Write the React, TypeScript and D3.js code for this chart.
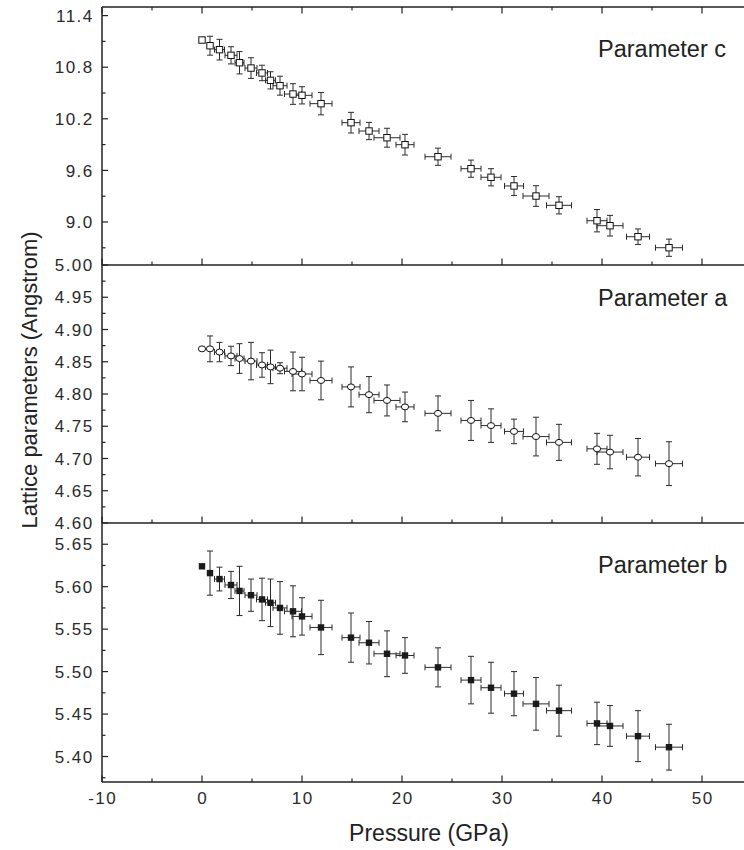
import React from "react";
import * as d3 from "d3";

// ---- data ----
const pressure = [0, 0.8, 1.75, 2.9, 3.75, 4.9, 6.0, 6.85, 7.8, 9.1, 10.0, 11.9, 14.9, 16.7, 18.5, 20.3, 23.6, 26.9, 28.9, 31.2, 33.4, 35.7, 39.5, 40.8, 43.6, 46.7];
const pressureErr = [0, 0, 0.5, 0.6, 0.45, 0.6, 0.55, 0.5, 0.7, 0.85, 1.0, 1.1, 0.9, 1.0, 1.3, 0.9, 1.3, 1.0, 1.0, 0.95, 1.3, 1.25, 1.0, 1.3, 1.15, 1.35];

const paramC = [11.116, 11.05, 11.004, 10.938, 10.852, 10.79, 10.733, 10.647, 10.585, 10.488, 10.473, 10.376, 10.155, 10.058, 9.98, 9.899, 9.759, 9.62, 9.52, 9.419, 9.302, 9.194, 9.015, 8.957, 8.829, 8.701];
const paramCErr = [0, 0.11, 0.12, 0.1, 0.13, 0.12, 0.09, 0.1, 0.11, 0.12, 0.1, 0.13, 0.12, 0.1, 0.11, 0.12, 0.1, 0.1, 0.1, 0.11, 0.12, 0.1, 0.13, 0.12, 0.09, 0.1];

const paramA = [4.87, 4.87, 4.865, 4.859, 4.855, 4.851, 4.845, 4.842, 4.84, 4.835, 4.831, 4.821, 4.811, 4.799, 4.79, 4.78, 4.77, 4.759, 4.751, 4.742, 4.734, 4.725, 4.715, 4.71, 4.702, 4.692];
const paramAErr = [0, 0.02, 0.015, 0.015, 0.023, 0.029, 0.019, 0.026, 0.0085, 0.03, 0.026, 0.03, 0.031, 0.028, 0.024, 0.023, 0.027, 0.031, 0.026, 0.019, 0.03, 0.028, 0.024, 0.026, 0.029, 0.034];

const paramB = [5.624, 5.616, 5.609, 5.602, 5.595, 5.59, 5.585, 5.581, 5.575, 5.571, 5.565, 5.552, 5.54, 5.534, 5.521, 5.519, 5.505, 5.49, 5.481, 5.474, 5.462, 5.454, 5.439, 5.436, 5.424, 5.411];
const paramBErr = [0, 0.026, 0.014, 0.016, 0.029, 0.019, 0.025, 0.028, 0.031, 0.03, 0.022, 0.032, 0.029, 0.025, 0.027, 0.021, 0.023, 0.028, 0.03, 0.026, 0.031, 0.03, 0.025, 0.024, 0.03, 0.027];

const xTicks = [-10, 0, 10, 20, 30, 40, 50];
const cTicks = [9.0, 9.6, 10.2, 10.8, 11.4];
const aTicks = [4.6, 4.65, 4.7, 4.75, 4.8, 4.85, 4.9, 4.95, 5.0];
const bTicks = [5.4, 5.45, 5.5, 5.55, 5.6, 5.65];

const panelLabels = ["Parameter c", "Parameter a", "Parameter b"];

// ---- layout ----
const W = 744;
const H = 850;
const left = 102;
const FONT = "'Liberation Sans', Arial, Helvetica, sans-serif";
const INK = "#222";

const x = d3.scaleLinear().domain([-10, 54.2]).range([left, W]);

type Marker = "openSquare" | "openCircle" | "filledSquare";

interface Panel {
  label: string;
  values: number[];
  errs: number[];
  y: d3.ScaleLinear<number, number>;
  ticks: number[];
  minor: number[];
  fmt: (v: number) => string;
  marker: Marker;
  labelBaseline: number;
  showBottomLabel: boolean;
}

const midpoints = (t: number[], below: boolean) => {
  const step = t[1] - t[0];
  const m = t.slice(0, -1).map((v, i) => (v + t[i + 1]) / 2);
  if (below) m.unshift(t[0] - step / 2);
  return m;
};

const panels: Panel[] = [
  {
    label: panelLabels[0],
    values: paramC,
    errs: paramCErr,
    y: d3.scaleLinear().domain([8.5, 11.5]).range([265, 7]),
    ticks: cTicks,
    minor: midpoints(cTicks, true),
    fmt: d3.format(".1f"),
    marker: "openSquare",
    labelBaseline: 57,
    showBottomLabel: false,
  },
  {
    label: panelLabels[1],
    values: paramA,
    errs: paramAErr,
    y: d3.scaleLinear().domain([4.6, 5.0]).range([523, 265]),
    ticks: aTicks,
    minor: midpoints(aTicks, false),
    fmt: d3.format(".2f"),
    marker: "openCircle",
    labelBaseline: 306,
    showBottomLabel: true,
  },
  {
    label: panelLabels[2],
    values: paramB,
    errs: paramBErr,
    y: d3.scaleLinear().domain([5.37, 5.675]).range([782, 523]),
    ticks: bTicks,
    minor: midpoints(bTicks, true),
    fmt: d3.format(".2f"),
    marker: "filledSquare",
    labelBaseline: 573,
    showBottomLabel: true,
  },
];

const xMinor = xTicks.map((v) => v + 5);

function PanelView({ p, isTop }: { p: Panel; isTop: boolean }) {
  const [yBottom, yTop] = p.y.range();
  const cap = 3;
  return (
    <g>
      {/* error bars */}
      <g stroke="#2b2b2b" strokeWidth={1} fill="none">
        {pressure.map((P, i) => {
          const cx = x(P);
          const cy = p.y(p.values[i]);
          const e = p.errs[i];
          const xe = pressureErr[i];
          const parts: JSX.Element[] = [];
          if (e > 0) {
            const y1 = p.y(p.values[i] + e);
            const y2 = p.y(p.values[i] - e);
            parts.push(<line key="v" x1={cx} x2={cx} y1={y1} y2={y2} />);
            parts.push(<line key="vt" x1={cx - cap} x2={cx + cap} y1={y1} y2={y1} />);
            parts.push(<line key="vb" x1={cx - cap} x2={cx + cap} y1={y2} y2={y2} />);
          }
          if (xe > 0) {
            const x1 = x(P - xe);
            const x2 = x(P + xe);
            parts.push(<line key="h" x1={x1} x2={x2} y1={cy} y2={cy} />);
            parts.push(<line key="hl" x1={x1} x2={x1} y1={cy - cap} y2={cy + cap} />);
            parts.push(<line key="hr" x1={x2} x2={x2} y1={cy - cap} y2={cy + cap} />);
          }
          return <g key={i}>{parts}</g>;
        })}
      </g>
      {/* markers */}
      <g>
        {pressure.map((P, i) => {
          const cx = x(P);
          const cy = p.y(p.values[i]);
          if (p.marker === "openCircle") {
            return <ellipse key={i} cx={cx} cy={cy} rx={3.6} ry={3} fill="#fff" stroke="#111" strokeWidth={1} />;
          }
          if (p.marker === "openSquare") {
            return <rect key={i} x={cx - 3.2} y={cy - 3.2} width={6.4} height={6.4} fill="#fff" stroke="#111" strokeWidth={1} />;
          }
          return <rect key={i} x={cx - 3.2} y={cy - 3.2} width={6.4} height={6.4} fill="#1a1a1a" stroke="none" />;
        })}
      </g>
      {/* y ticks */}
      <g stroke={INK} strokeWidth={1.2}>
        {p.ticks.map((t) => (
          <line key={"M" + t} x1={left} x2={left + 6} y1={p.y(t)} y2={p.y(t)} />
        ))}
        {p.minor.map((t) => (
          <line key={"m" + t} x1={left} x2={left + 3.5} y1={p.y(t)} y2={p.y(t)} />
        ))}
      </g>
      <g fontFamily={FONT} fontSize={17} fill="#2a2a2a" textAnchor="end" letterSpacing={1.4}>
        {p.ticks
          .filter((t) => p.showBottomLabel || Math.abs(p.y(t) - yBottom) > 1)
          .map((t) => (
            <text key={"l" + t} x={93.5} y={p.y(t)} dy="0.36em">
              {p.fmt(t)}
            </text>
          ))}
      </g>
      {/* x ticks on bottom edge (pointing up, inside) */}
      <g stroke={INK} strokeWidth={1.2}>
        {xTicks.map((t) => (
          <line key={"xb" + t} x1={x(t)} x2={x(t)} y1={yBottom} y2={yBottom - 6.5} />
        ))}
        {xMinor.map((t) => (
          <line key={"xbm" + t} x1={x(t)} x2={x(t)} y1={yBottom} y2={yBottom - 3.5} />
        ))}
        {isTop &&
          xTicks.map((t) => (
            <line key={"xt" + t} x1={x(t)} x2={x(t)} y1={yTop} y2={yTop + 6.5} />
          ))}
        {isTop &&
          xMinor.map((t) => (
            <line key={"xtm" + t} x1={x(t)} x2={x(t)} y1={yTop} y2={yTop + 3.5} />
          ))}
      </g>
      {/* horizontal frame lines */}
      <line x1={left} x2={W} y1={yBottom} y2={yBottom} stroke={INK} strokeWidth={1.5} />
      {isTop && <line x1={left} x2={W} y1={yTop} y2={yTop} stroke={INK} strokeWidth={1.5} />}
      <text x={598} y={p.labelBaseline} fontFamily={FONT} fontSize={23.5} fill="#222">
        {p.label}
      </text>
    </g>
  );
}

export default function App() {
  const yTopAll = panels[0].y.range()[1];
  const yBottomAll = panels[2].y.range()[0];
  return (
    <svg
      width={W}
      height={H}
      viewBox={`0 0 ${W} ${H}`}
      style={{ position: "absolute", left: 0, top: 0, background: "#fff" }}
    >
      <rect x={0} y={0} width={W} height={H} fill="#fff" />
      {panels.map((p, i) => (
        <PanelView key={i} p={p} isTop={i === 0} />
      ))}
      <line x1={left} x2={left} y1={yTopAll} y2={yBottomAll} stroke={INK} strokeWidth={1.5} />
      {/* x tick labels */}
      <g fontFamily={FONT} fontSize={17} fill="#2a2a2a" textAnchor="middle" letterSpacing={1.4}>
        {xTicks.map((t) => (
          <text key={t} x={x(t) + 0.7} y={804}>
            {t}
          </text>
        ))}
      </g>
      <text x={429} y={841} textAnchor="middle" fontFamily={FONT} fontSize={23} fill="#222">
        Pressure (GPa)
      </text>
      <text
        transform={`translate(37, 380) rotate(-90)`}
        textAnchor="middle"
        fontFamily={FONT}
        fontSize={22}
        fill="#222"
      >
        Lattice parameters (Angstrom)
      </text>
    </svg>
  );
}
